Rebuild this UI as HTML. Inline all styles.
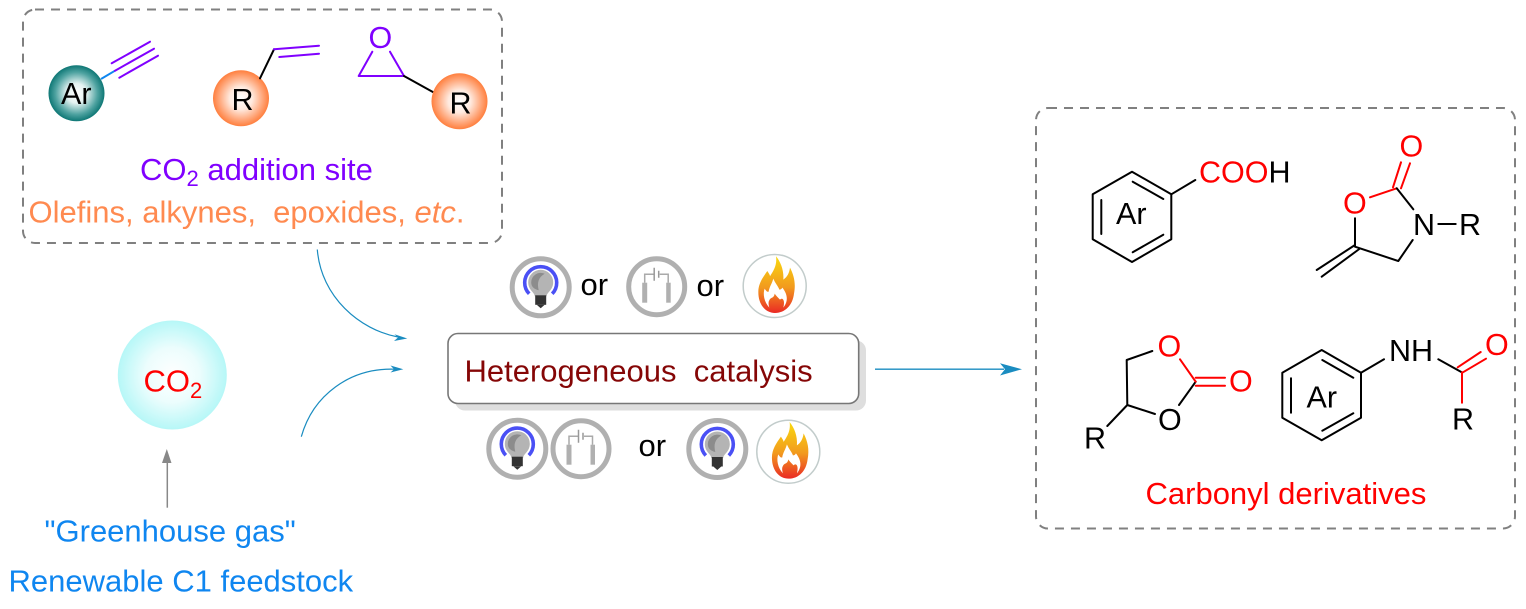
<!DOCTYPE html>
<html><head><meta charset="utf-8"><style>
html,body{margin:0;padding:0;background:#fff;width:1526px;height:609px;overflow:hidden}
svg{display:block}
text{font-family:"Liberation Sans",sans-serif;font-size:31px;white-space:pre}
text.c{font-size:30.5px}
.b{stroke:#000;stroke-width:2;fill:none;stroke-linecap:round;stroke-linejoin:round}
.r{stroke:#f00;stroke-width:2;fill:none;stroke-linecap:round}
.p{stroke:#8000ff;stroke-width:2;fill:none;stroke-linecap:round;stroke-linejoin:round}
.red{fill:#f00}.blue{fill:#0f86f0}
</style></head><body>
<svg width="1526" height="609" viewBox="0 0 1526 609" xmlns="http://www.w3.org/2000/svg">
<defs>
<radialGradient id="gT" cx="50%" cy="50%" r="50%"><stop offset="0" stop-color="#fff"/><stop offset=".35" stop-color="#e4f2f1"/><stop offset=".75" stop-color="#4fa3a1"/><stop offset="1" stop-color="#0e7775"/></radialGradient>
<radialGradient id="gO" cx="50%" cy="50%" r="50%"><stop offset="0" stop-color="#fff"/><stop offset=".4" stop-color="#ffeadf"/><stop offset=".8" stop-color="#ffa273"/><stop offset="1" stop-color="#ff7f3e"/></radialGradient>
<radialGradient id="gC" cx="50%" cy="50%" r="50%"><stop offset="0" stop-color="#fff"/><stop offset=".5" stop-color="#ecfdfd"/><stop offset="1" stop-color="#b6f7f7"/></radialGradient>
<linearGradient id="gF" x1="0" y1="0" x2="0" y2="1"><stop offset="0" stop-color="#f9d90f"/><stop offset=".55" stop-color="#f29a1e"/><stop offset="1" stop-color="#ea2a24"/></linearGradient>
<g id="bulb">
<circle r="28.5" fill="#fff" stroke="#b0b0b0" stroke-width="5"/>
<path d="M-11.5 6.5A16 16 0 1 1 11.5 6.5" fill="none" stroke="#4a50f5" stroke-width="3.6"/>
<path d="M-6 9C-6 5-12.5 3-12.5-5A12.5 12.5 0 0 1 12.5-5C12.5 3 6 5 6 9Z" fill="#b4b4b4"/>
<path d="M-9.5-5A9.5 9.5 0 0 1 4-13.5C-2-10-4-5-2 3-6 2-9.5 0-9.5-5Z" fill="#8c8c8c"/>
<rect x="-5.5" y="8" width="11" height="9.5" fill="#333"/><path d="M-4 17.5H4L0 21Z" fill="#333"/>
</g>
<g id="batt">
<circle r="28" fill="#fff" stroke="#b0b0b0" stroke-width="5"/>
<rect x="-14.5" y="-4" width="5" height="20" fill="#b0b0b0"/><rect x="9.5" y="-4" width="4.5" height="20" fill="#b0b0b0"/>
<path d="M-12-4V-12.5H-3M3-12.5H11.5V-4" fill="none" stroke="#aaa" stroke-width="1.5"/>
<path d="M-2.5-19V-6M2-16V-9" fill="none" stroke="#999" stroke-width="1.5"/>
</g>
<g id="flame">
<circle r="31.5" fill="#fff" stroke="#c2cccb" stroke-width="1.5"/>
<g transform="translate(-34.7 -35.7) scale(.3333)">
<path d="M105 188C78 188 55 165 55 125C55 100 68 82 82 62C88 72 90 74 90 78C100 62 112 45 108 18C122 35 132 60 130 88C142 80 148 68 150 52C162 75 168 100 162 130C158 165 135 188 105 188Z" fill="url(#gF)"/>
<path d="M88 172C72 155 68 130 74 115C78 122 82 126 86 124C88 110 96 100 100 85C106 100 115 108 118 118C122 118 125 116 127 112C140 128 148 150 130 172C136 150 128 140 120 148C114 142 108 136 104 130C102 145 92 140 88 150C84 156 86 165 88 172Z" fill="#fff"/>
</g>
</g>
</defs>

<!-- left box -->
<rect x="23" y="9.5" width="479" height="233.5" rx="12" fill="none" stroke="#808080" stroke-width="2" stroke-dasharray="9 7"/>
<circle cx="76.5" cy="93.3" r="28" fill="url(#gT)"/>
<text class="c" x="61" y="104">Ar</text>
<path d="M101 79L115 70.7" stroke="#0f86f0" stroke-width="2" fill="none"/>
<path class="p" d="M111.7 63.3L150 41.7M115 70.7L154 48.7M119.3 77.7L158 55.7"/>
<circle cx="241" cy="98.3" r="28" fill="url(#gO)"/>
<text class="c" x="231.5" y="110">R</text>
<path class="b" d="M260 78.3L274 49.3"/>
<path class="p" d="M274 49.3L319 45.7M279.3 57L319 53.7"/>
<text class="c" x="368.5" y="48" fill="#8000ff">O</text>
<path class="p" d="M372.3 51.7L358.7 76H404L390 51.7"/>
<path class="b" d="M404 76L433.3 92.3"/>
<circle cx="459.5" cy="101.3" r="28" fill="url(#gO)"/>
<text class="c" x="449.5" y="113.3">R</text>
<text x="140" y="180" fill="#8000ff">CO<tspan font-size="22" dy="6">2</tspan><tspan dy="-6"> addition site</tspan></text>
<text x="28.5" y="222.5" fill="#ff8a50">Olefins, alkynes,  epoxides, <tspan font-style="italic">etc</tspan>.</text>

<!-- CO2 -->
<circle cx="172.3" cy="375" r="54.5" fill="url(#gC)"/>
<text x="143.5" y="391.7" class="red">CO<tspan font-size="22" dy="6.5">2</tspan></text>
<path d="M167.3 507.7V460" stroke="#888" stroke-width="1.5" fill="none"/>
<path d="M166.8 449L171.5 463H162Z" fill="#888"/>
<text x="44.5" y="541.5" class="blue">"Greenhouse gas"</text>
<text x="8.5" y="591.5" class="blue">Renewable C1 feedstock</text>

<!-- curved arrows -->
<path d="M317.3 249.5C321 297 360 330 398 337" fill="none" stroke="#1a8cc0" stroke-width="1.2"/>
<path d="M407.3 338.5L394.5 334.3L398 337.5L394 341Z" fill="#1a8cc0"/>
<path d="M301.3 436.7C313 395 350 368 394 369.2" fill="none" stroke="#1a8cc0" stroke-width="1.2"/>
<path d="M403.3 369.3L390.5 365.5L394 369.2L390.5 372.5Z" fill="#1a8cc0"/>

<!-- center box -->
<rect x="455" y="340.5" width="411" height="70" rx="10" fill="#dedede"/>
<rect x="448" y="333.5" width="410.7" height="70" rx="10" fill="#fff" stroke="#777" stroke-width="1.6"/>
<text x="464.5" y="381.7" fill="#850606">Heterogeneous  catalysis</text>
<path d="M875 369.2H1004" stroke="#1a8cc0" stroke-width="1.3" fill="none"/>
<path d="M1022 369.2L1000 363.2L1005 369.2L1000 375.5Z" fill="#1a8cc0"/>

<use href="#bulb" x="540.7" y="287.3"/>
<text x="580.5" y="295">or</text>
<use href="#batt" x="656.7" y="286.7"/>
<text x="696.5" y="296">or</text>
<use href="#flame" x="774.7" y="286"/>
<use href="#bulb" x="517.3" y="448.7"/>
<use href="#batt" x="581" y="448.7"/>
<text x="638.5" y="456">or</text>
<use href="#bulb" x="717.3" y="449"/>
<use href="#flame" x="788.3" y="451.7"/>

<!-- right box -->
<rect x="1036" y="108" width="479" height="420.5" rx="12" fill="none" stroke="#808080" stroke-width="2" stroke-dasharray="9 7"/>
<path class="b" d="M1132 171.7L1171.3 194.3V239.3L1132 262L1092.7 239.3V194.3ZM1132.7 181.7L1163.3 199M1163.3 234.7L1132.7 252.3M1101.3 200V234M1171.3 194.3L1195.3 180"/>
<text class="c" x="1116" y="224">Ar</text>
<text class="c" x="1199" y="182.3" fill="#f00">COO<tspan fill="#000">H</tspan></text>
<text class="c" x="1399.5" y="156.7" fill="#f00">O</text>
<path class="r" d="M1401 162.3L1393 187.3M1410 163.3L1401 188.3M1370 197.3L1396.7 188.3"/>
<text class="c" x="1343" y="213.3" fill="#f00">O</text>
<path class="b" d="M1396.7 188.3L1413.3 209.3M1355 218.3V246.7L1398.3 261L1412.7 240M1438.3 224H1455.7M1355 245L1316.7 270M1359.3 249L1321.7 276.7"/>
<text class="c" x="1413" y="235">N</text>
<text class="c" x="1459" y="235">R</text>

<text class="c" x="1157.5" y="356.7" fill="#f00">O</text>
<path class="b" d="M1152.3 351L1126.7 360L1127.3 405L1155 414M1179 405L1195.7 381.7M1107.3 426L1127.3 405"/>
<path class="r" d="M1180 359.3L1195.7 381.7M1195.7 377.7H1225M1195.7 385.7H1225"/>
<text class="c" x="1158" y="430">O</text>
<text class="c" x="1229" y="391.7" fill="#f00">O</text>
<text class="c" x="1084" y="448.3">R</text>
<path class="b" d="M1321.7 350L1361 372.7V417.7L1321.7 440.3L1282.3 417.7V372.7ZM1322.3 360L1353.3 377.7M1353.3 413.3L1322.3 430.7M1291 378.3V412.7M1361 372.7L1384 359.3M1438.3 359.3L1461.7 372.3"/>
<text class="c" x="1306.5" y="407.7">Ar</text>
<text class="c" x="1389" y="361">NH</text>
<path class="r" d="M1457.7 367.3L1480.7 352M1462.3 372.7L1486 358.7M1462 372.3V402.7"/>
<text class="c" x="1485" y="355" fill="#f00">O</text>
<text class="c" x="1452" y="429.3">R</text>
<text x="1145.5" y="503.8" class="red">Carbonyl derivatives</text>
</svg>
</body></html>
